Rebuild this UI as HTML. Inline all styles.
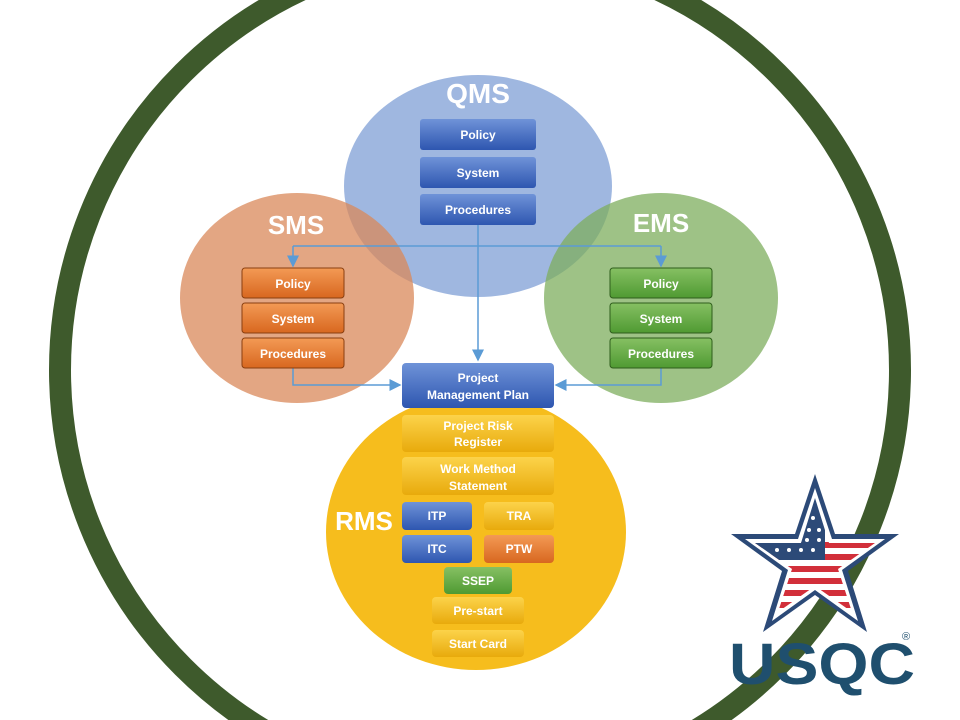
<!DOCTYPE html>
<html><head><meta charset="utf-8"><style>
html,body{margin:0;padding:0;width:960px;height:720px;overflow:hidden;background:#fff;font-family:"Liberation Sans",sans-serif}
svg{display:block}
</style></head><body>
<svg width="960" height="720" viewBox="0 0 960 720" xmlns="http://www.w3.org/2000/svg">
<defs>
<linearGradient id="bl" x1="0" y1="0" x2="0" y2="1"><stop offset="0" stop-color="#6f93d8"/><stop offset="1" stop-color="#2e56b0"/></linearGradient>
<linearGradient id="or" x1="0" y1="0" x2="0" y2="1"><stop offset="0" stop-color="#f39a55"/><stop offset="1" stop-color="#d8671f"/></linearGradient>
<linearGradient id="gr" x1="0" y1="0" x2="0" y2="1"><stop offset="0" stop-color="#86c063"/><stop offset="1" stop-color="#4f9a32"/></linearGradient>
<linearGradient id="ye" x1="0" y1="0" x2="0" y2="1"><stop offset="0" stop-color="#fcd34a"/><stop offset="1" stop-color="#e8aa0c"/></linearGradient>
<marker id="ar" markerWidth="8" markerHeight="8" refX="7" refY="4" orient="auto"><path d="M0,0 L8,4 L0,8z" fill="#5b9bd5"/></marker>
<clipPath id="st"><polygon points="0,-64 14,-19 60,-19 23,7 37,50 0,24 -37,50 -23,7 -60,-19 -14,-19"/></clipPath>
</defs>
<circle cx="480" cy="370" r="420" fill="none" stroke="#3e5a2c" stroke-width="22"/>
<ellipse cx="478" cy="186" rx="134" ry="111" fill="#8eaadb" opacity="0.85"/>
<ellipse cx="297" cy="298" rx="117" ry="105" fill="#d9885a" opacity="0.75"/>
<ellipse cx="661" cy="298" rx="117" ry="105" fill="#7dad5e" opacity="0.75"/>
<ellipse cx="476" cy="532" rx="150" ry="138" fill="#f6bd1d"/>
<g fill="#fff" font-weight="bold" text-anchor="middle">
<text x="478" y="103" font-size="28">QMS</text>
<text x="296" y="234" font-size="26">SMS</text>
<text x="661" y="232" font-size="26">EMS</text>
<text x="364" y="530" font-size="26">RMS</text>
</g>
<g stroke="#5b9bd5" stroke-width="1.5" fill="none">
<path d="M478 225 V360" marker-end="url(#ar)"/>
<path d="M293 246 H661"/>
<path d="M293 246 V266" marker-end="url(#ar)"/>
<path d="M661 246 V266" marker-end="url(#ar)"/>
<path d="M293 368 V385 H400" marker-end="url(#ar)"/>
<path d="M661 368 V385 H556" marker-end="url(#ar)"/>
</g>
<g font-size="12" font-weight="bold" fill="#fff" text-anchor="middle">
<rect x="420" y="119" width="116" height="31" rx="3" fill="url(#bl)"/><text x="478" y="139">Policy</text>
<rect x="420" y="157" width="116" height="31" rx="3" fill="url(#bl)"/><text x="478" y="177">System</text>
<rect x="420" y="194" width="116" height="31" rx="3" fill="url(#bl)"/><text x="478" y="214">Procedures</text>
<rect x="242" y="268" width="102" height="30" rx="3" fill="url(#or)" stroke="#8a3f10"/><text x="293" y="288">Policy</text>
<rect x="242" y="303" width="102" height="30" rx="3" fill="url(#or)" stroke="#8a3f10"/><text x="293" y="323">System</text>
<rect x="242" y="338" width="102" height="30" rx="3" fill="url(#or)" stroke="#8a3f10"/><text x="293" y="358">Procedures</text>
<rect x="610" y="268" width="102" height="30" rx="3" fill="url(#gr)" stroke="#2f5e1c"/><text x="661" y="288">Policy</text>
<rect x="610" y="303" width="102" height="30" rx="3" fill="url(#gr)" stroke="#2f5e1c"/><text x="661" y="323">System</text>
<rect x="610" y="338" width="102" height="30" rx="3" fill="url(#gr)" stroke="#2f5e1c"/><text x="661" y="358">Procedures</text>
<rect x="402" y="363" width="152" height="45" rx="4" fill="url(#bl)"/><text x="478" y="382">Project</text><text x="478" y="399">Management Plan</text>
<rect x="402" y="415" width="152" height="37" rx="4" fill="url(#ye)"/><text x="478" y="430">Project Risk</text><text x="478" y="446">Register</text>
<rect x="402" y="457" width="152" height="38" rx="4" fill="url(#ye)"/><text x="478" y="473">Work Method</text><text x="478" y="490">Statement</text>
<rect x="402" y="502" width="70" height="28" rx="4" fill="url(#bl)"/><text x="437" y="520">ITP</text>
<rect x="484" y="502" width="70" height="28" rx="4" fill="url(#ye)"/><text x="519" y="520">TRA</text>
<rect x="402" y="535" width="70" height="28" rx="4" fill="url(#bl)"/><text x="437" y="553">ITC</text>
<rect x="484" y="535" width="70" height="28" rx="4" fill="url(#or)"/><text x="519" y="553">PTW</text>
<rect x="444" y="567" width="68" height="27" rx="4" fill="url(#gr)"/><text x="478" y="585">SSEP</text>
<rect x="432" y="597" width="92" height="27" rx="4" fill="url(#ye)"/><text x="478" y="615">Pre-start</text>
<rect x="432" y="630" width="92" height="27" rx="4" fill="url(#ye)"/><text x="478" y="648">Start Card</text>
</g>
<g transform="translate(815,562)">
<polygon points="0,-88 20,-28 84,-28 33,9 52,70 0,33 -52,70 -33,9 -84,-28 -20,-28" fill="#2c4a78"/>
<polygon points="0,-74 17,-23 70,-23 27,8 43,59 0,28 -43,59 -27,8 -70,-23 -17,-23" fill="#fff"/>
<g clip-path="url(#st)">
<rect x="-70" y="-70" width="140" height="130" fill="#fff"/>
<rect x="-70" y="-20" width="140" height="6" fill="#d22f3a"/>
<rect x="-70" y="-8" width="140" height="6" fill="#d22f3a"/>
<rect x="-70" y="4" width="140" height="6" fill="#d22f3a"/>
<rect x="-70" y="16" width="140" height="6" fill="#d22f3a"/>
<rect x="-70" y="28" width="140" height="6" fill="#d22f3a"/>
<rect x="-70" y="40" width="140" height="6" fill="#d22f3a"/>
<rect x="-70" y="-70" width="80" height="68" fill="#2c4a78"/>
<g fill="#fff"><circle cx="-2" cy="-44" r="2"/><circle cx="-6" cy="-32" r="2"/><circle cx="4" cy="-32" r="2"/><circle cx="-38" cy="-12" r="2"/><circle cx="-26" cy="-12" r="2"/><circle cx="-14" cy="-12" r="2"/><circle cx="-2" cy="-12" r="2"/><circle cx="-8" cy="-22" r="2"/><circle cx="-20" cy="-22" r="2"/><circle cx="4" cy="-22" r="2"/></g>
</g>
</g>
<text x="822" y="684" font-size="58" font-weight="bold" fill="#1f4f6e" text-anchor="middle" textLength="186" lengthAdjust="spacingAndGlyphs">USQC</text>
<text x="902" y="640" font-size="11" fill="#1f4f6e">®</text>
</svg>
</body></html>
